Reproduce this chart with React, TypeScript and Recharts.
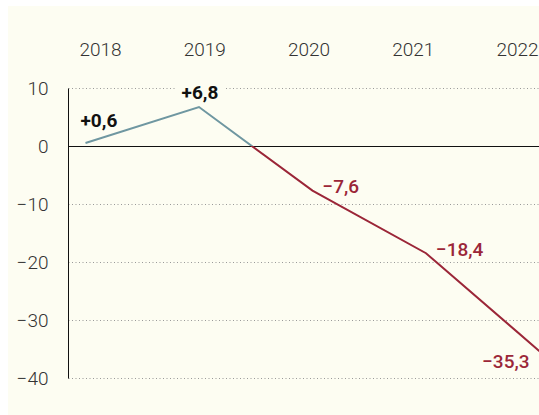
import { LineChart, Line, XAxis, YAxis, CartesianGrid, ReferenceLine, LabelList } from "recharts";

const years = ["2018", "2019", "2020", "2021", "2022"];
const change = [0.6, 6.8, -7.6, -18.4, -35.3];
const yTicks = [10, 0, -10, -20, -30, -40];

const data = years.map((year, i) => ({ year, value: change[i] }));

const BG = "#fdfdf2";
const BLUE = "#6f97a1";
const RED = "#9b2638";

const fmtNum = (v: number) => String(v).replace("-", "\u2212").replace(".", ",");
const fmtLabel = (v: number) => (v > 0 ? "+" : "") + fmtNum(v);

// where the line crosses zero inside its own bounding box
const maxV = Math.max(...change);
const minV = Math.min(...change);
const zeroOffset = maxV / (maxV - minV);

function labelPos(x: number, y: number, index: number) {
  if (index === 0) return { tx: x - 5, ty: y - 23, anchor: "start" as const };
  if (index === 1) return { tx: x + 1, ty: y - 15, anchor: "middle" as const };
  if (index === years.length - 1) return { tx: x - 10, ty: y + 10, anchor: "end" as const };
  return { tx: x + 10, ty: y - 4, anchor: "start" as const };
}

// background patch behind a label so the dotted grid stops there
function LabelBg(props: any) {
  const { x, y, value, index } = props;
  const text = fmtLabel(value);
  const w = text.length * 10;
  const { tx, ty, anchor } = labelPos(x, y, index);
  const rx = anchor === "start" ? tx - 5 : anchor === "middle" ? tx - w / 2 - 5 : tx - w - 5;
  return <rect x={rx} y={ty - 12} width={w + 10} height={24} fill={BG} />;
}

function ValueLabel(props: any) {
  const { x, y, value, index } = props;
  const pos = value >= 0;
  const { tx, ty, anchor } = labelPos(x, y, index);
  return (
    <text
      x={tx}
      y={ty}
      dy="0.36em"
      textAnchor={anchor}
      fontSize={19}
      fontWeight={pos ? 700 : 500}
      fill={pos ? "#111" : RED}
    >
      {fmtLabel(value)}
    </text>
  );
}

export default function App() {
  return (
    <div
      style={{
        position: "fixed",
        left: 8,
        top: 6,
        width: 531,
        height: 409,
        background: BG,
        fontFamily: "Roboto",
        overflow: "hidden",
      }}
    >
      <div style={{ transform: "translate(0.5px, 0.5px)" }}>
        <LineChart width={531} height={409} data={data} margin={{ top: 0, right: 0, bottom: 37, left: 0 }}>
          <defs>
            <linearGradient id="lineGrad" x1="0" y1="0" x2="0" y2="1">
              <stop offset={zeroOffset} stopColor={BLUE} />
              <stop offset={zeroOffset} stopColor={RED} />
            </linearGradient>
          </defs>
          <CartesianGrid xAxisId="data" vertical={false} stroke="#999" strokeDasharray="1 2.5" />
          <XAxis xAxisId="data" dataKey="year" hide padding={{ left: 17, right: 0 }} />
          <XAxis
            xAxisId="top"
            dataKey="year"
            orientation="top"
            height={82}
            padding={{ left: 32, right: 22 }}
            axisLine={false}
            tickLine={false}
            tickSize={0}
            tickMargin={33}
            tick={{ fill: "#333", fontSize: 19, fontWeight: 300 }}
          />
          <YAxis
            domain={[-40, 10]}
            ticks={yTicks}
            width={60}
            axisLine={{ stroke: "#111" }}
            tickLine={false}
            tickSize={0}
            tickMargin={20}
            tickFormatter={fmtNum}
            tick={{ fill: "#333", fontSize: 19, fontWeight: 300 }}
          />
          <ReferenceLine xAxisId="data" y={0} stroke="#111" strokeWidth={1} />
          <Line
            xAxisId="data"
            dataKey="value"
            stroke="none"
            dot={false}
            legendType="none"
            isAnimationActive={false}
          >
            <LabelList dataKey="value" content={<LabelBg />} zIndex={300} />
          </Line>
          <Line
            xAxisId="data"
            dataKey="value"
            type="linear"
            stroke="url(#lineGrad)"
            strokeWidth={2}
            dot={false}
            label={<ValueLabel />}
            isAnimationActive={false}
          />
        </LineChart>
      </div>
    </div>
  );
}
